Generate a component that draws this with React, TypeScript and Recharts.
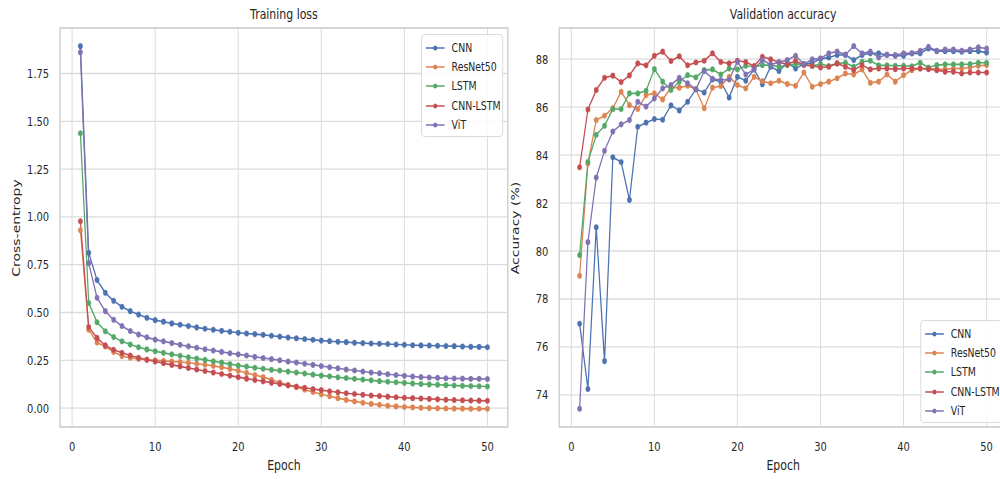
import React from 'react';
import { LineChart, Line, XAxis, YAxis, CartesianGrid, ReferenceArea } from 'recharts';

const FONT = '"DejaVu Sans", "Noto Sans", sans-serif';
const INK = '#262626';
// the source figure is squeezed horizontally, so draw wide and scale down
const SQUEEZE = 0.78;

const epochs = [
  1, 2, 3, 4, 5, 6, 7, 8, 9, 10, 11, 12, 13, 14, 15, 16, 17, 18, 19, 20, 21, 22, 23, 24, 25,
  26, 27, 28, 29, 30, 31, 32, 33, 34, 35, 36, 37, 38, 39, 40, 41, 42, 43, 44, 45, 46, 47, 48, 49, 50,
];
const models = ['CNN', 'ResNet50', 'LSTM', 'CNN-LSTM', 'ViT'];
const colors = ['#4C72B0', '#DD8452', '#55A868', '#C44E52', '#8172B3'];

const lossCNN = [
  1.893, 0.812, 0.670, 0.603, 0.561, 0.530, 0.507, 0.489, 0.472, 0.460, 0.452, 0.443, 0.436, 0.429, 0.422,
  0.415, 0.410, 0.404, 0.399, 0.394, 0.390, 0.387, 0.383, 0.378, 0.374, 0.369, 0.365, 0.361, 0.357, 0.353,
  0.350, 0.347, 0.345, 0.342, 0.340, 0.338, 0.336, 0.335, 0.333, 0.331, 0.329, 0.328, 0.327, 0.326, 0.325,
  0.324, 0.322, 0.321, 0.320, 0.318,
];
const lossResNet = [
  0.930, 0.410, 0.343, 0.322, 0.293, 0.272, 0.263, 0.257, 0.253, 0.250, 0.247, 0.244, 0.241, 0.237, 0.232,
  0.227, 0.221, 0.214, 0.205, 0.195, 0.184, 0.173, 0.162, 0.148, 0.134, 0.121, 0.109, 0.096, 0.084, 0.072,
  0.062, 0.052, 0.043, 0.035, 0.028, 0.022, 0.017, 0.012, 0.009, 0.006, 0.004, 0.002, 0.000, -0.001, -0.002,
  -0.003, -0.003, -0.004, -0.004, -0.004,
];
const lossLSTM = [
  1.437, 0.550, 0.449, 0.402, 0.372, 0.349, 0.333, 0.318, 0.307, 0.297, 0.289, 0.281, 0.274, 0.266, 0.259,
  0.252, 0.245, 0.238, 0.230, 0.223, 0.217, 0.211, 0.206, 0.200, 0.196, 0.191, 0.186, 0.181, 0.175, 0.170,
  0.166, 0.161, 0.157, 0.153, 0.149, 0.145, 0.141, 0.138, 0.135, 0.132, 0.129, 0.126, 0.124, 0.122, 0.120,
  0.118, 0.116, 0.115, 0.114, 0.113,
];
const lossCnnLstm = [
  0.977, 0.424, 0.367, 0.328, 0.305, 0.289, 0.275, 0.263, 0.253, 0.244, 0.235, 0.226, 0.218, 0.210, 0.202,
  0.194, 0.186, 0.178, 0.170, 0.162, 0.154, 0.147, 0.140, 0.133, 0.126, 0.119, 0.113, 0.106, 0.100, 0.094,
  0.088, 0.083, 0.078, 0.074, 0.070, 0.066, 0.063, 0.060, 0.057, 0.054, 0.052, 0.050, 0.048, 0.046, 0.044,
  0.042, 0.041, 0.040, 0.039, 0.038,
];
const lossViT = [
  1.861, 0.758, 0.577, 0.507, 0.462, 0.429, 0.403, 0.385, 0.370, 0.358, 0.349, 0.340, 0.331, 0.323, 0.316,
  0.308, 0.301, 0.294, 0.287, 0.281, 0.275, 0.268, 0.262, 0.256, 0.250, 0.244, 0.238, 0.232, 0.226, 0.220,
  0.214, 0.208, 0.202, 0.197, 0.191, 0.186, 0.182, 0.177, 0.173, 0.169, 0.165, 0.162, 0.160, 0.158, 0.156,
  0.155, 0.154, 0.153, 0.153, 0.152,
];

const accCNN = [
  76.97, 74.25, 80.99, 75.41, 83.91, 83.71, 82.13, 85.18, 85.35, 85.50, 85.47, 86.07, 85.86, 86.22, 86.74,
  86.61, 87.15, 87.06, 86.40, 87.26, 87.10, 87.57, 86.95, 87.68, 87.50, 87.85, 87.61, 87.79, 87.85, 88.00,
  88.07, 88.17, 88.17, 87.96, 88.17, 88.24, 88.24, 88.17, 88.14, 88.14, 88.24, 88.24, 88.44, 88.33, 88.33,
  88.33, 88.31, 88.33, 88.33, 88.27,
];
const accResNet = [
  78.97, 83.65, 85.46, 85.64, 85.95, 86.64, 86.08, 85.92, 86.50, 86.57, 86.32, 86.81, 86.81, 86.89, 86.74,
  85.95, 86.81, 86.88, 87.26, 86.92, 86.78, 87.26, 87.08, 86.99, 87.10, 86.96, 86.89, 87.44, 86.85, 86.96,
  87.06, 87.20, 87.40, 87.36, 87.57, 87.01, 87.06, 87.36, 87.06, 87.33, 87.54, 87.61, 87.61, 87.57, 87.57,
  87.61, 87.61, 87.65, 87.72, 87.75,
];
const accLSTM = [
  79.83, 83.71, 84.84, 85.22, 85.92, 85.92, 86.57, 86.57, 86.68, 87.58, 87.06, 86.71, 87.06, 87.33, 87.24,
  87.54, 87.57, 87.36, 87.61, 87.57, 87.72, 87.68, 87.75, 87.75, 87.68, 87.75, 87.79, 87.79, 87.71, 87.79,
  87.71, 87.82, 87.85, 87.68, 87.89, 87.93, 87.74, 87.74, 87.72, 87.72, 87.70, 87.85, 87.65, 87.75, 87.78,
  87.78, 87.78, 87.79, 87.85, 87.85,
];
const accCnnLstm = [
  83.49, 85.90, 86.71, 87.22, 87.31, 87.04, 87.32, 87.82, 87.74, 88.14, 88.31, 87.92, 88.12, 87.74, 87.86,
  87.93, 88.24, 87.88, 87.82, 87.93, 87.88, 87.71, 88.10, 87.99, 87.87, 87.78, 87.93, 87.75, 87.72, 87.65,
  87.68, 87.82, 87.68, 87.54, 87.75, 87.57, 87.61, 87.61, 87.58, 87.61, 87.61, 87.61, 87.58, 87.54, 87.47,
  87.47, 87.40, 87.44, 87.44, 87.44,
];
const accViT = [
  73.42, 80.37, 83.06, 84.18, 84.98, 85.28, 85.46, 86.22, 86.02, 86.36, 86.78, 86.92, 87.22, 86.99, 86.74,
  87.50, 87.18, 87.13, 87.15, 87.89, 87.36, 87.57, 87.96, 87.77, 87.87, 87.96, 88.14, 87.79, 87.99, 88.03,
  88.24, 88.31, 88.19, 88.54, 88.24, 88.31, 88.07, 88.19, 88.17, 88.24, 88.24, 88.35, 88.51, 88.35, 88.40,
  88.40, 88.35, 88.40, 88.49, 88.44,
];

const epochTicks = [0, 10, 20, 30, 40, 50];
const lossTicks = [0, 0.25, 0.5, 0.75, 1.0, 1.25, 1.5, 1.75];
const accTicks = [74, 76, 78, 80, 82, 84, 86, 88];

// matplotlib-style 5% margins around the data
function padded(values: number[]): [number, number] {
  const lo = Math.min(...values);
  const hi = Math.max(...values);
  const pad = (hi - lo) * 0.05;
  return [lo - pad, hi + pad];
}

function buildRows(series: number[][]) {
  return epochs.map((epoch, i) => {
    const row: Record<string, number> = { epoch };
    models.forEach((m, j) => (row[m] = series[j][i]));
    return row;
  });
}

const Y_AXIS_W = 77;
const PLOT_W = 574;
const CHART_W = Y_AXIS_W + PLOT_W + 20;
const CHART_H = 479;
const PLOT_TOP = 28;
const X_AXIS_H = 52;

function LegendBox({ left, top }: { left: number; top: number }) {
  return (
    <div
      style={{
        position: 'absolute',
        left,
        top,
        width: 105,
        boxSizing: 'border-box',
        padding: '3px 0 2px',
        background: 'rgba(255,255,255,0.85)',
        border: '1px solid #d6d6d6',
        borderRadius: 4,
        fontFamily: FONT,
        fontSize: 12,
        color: INK,
      }}
    >
      {models.map((m, i) => (
        <div key={m} style={{ display: 'flex', alignItems: 'center', height: 19.3 }}>
          <svg width={38} height={10} style={{ flex: 'none' }}>
            <line x1={5} x2={29} y1={5} y2={5} stroke={colors[i]} strokeWidth={1.6} />
            <circle cx={17} cy={5} r={2.6} fill={colors[i]} />
          </svg>
          <span style={{ whiteSpace: 'nowrap' }}>{m}</span>
        </div>
      ))}
    </div>
  );
}

interface PanelProps {
  left: number;
  title: string;
  yLabel: string;
  series: number[][];
  yTicks: number[];
  yFormat: (v: number) => string;
  legendTop: number;
}

function Panel({ left, title, yLabel, series, yTicks, yFormat, legendTop }: PanelProps) {
  const rows = buildRows(series);
  const xDomain = padded(epochs);
  const yDomain = padded(series.flat());
  const plotLeft = left + Y_AXIS_W;

  return (
    <>
      <div style={{ position: 'absolute', left, top: 0 }}>
        <LineChart
          width={CHART_W}
          height={CHART_H}
          data={rows}
          margin={{ top: PLOT_TOP, right: 20, bottom: 0, left: 0 }}
        >
          <CartesianGrid stroke="#dcdcdc" strokeWidth={1.3} />
          <ReferenceArea
            x1={xDomain[0]}
            x2={xDomain[1]}
            y1={yDomain[0]}
            y2={yDomain[1]}
            fill="none"
            stroke="#d0d0d0"
            strokeWidth={1.6}
          />
          <XAxis
            dataKey="epoch"
            type="number"
            domain={xDomain}
            ticks={epochTicks}
            height={X_AXIS_H}
            axisLine={false}
            tickLine={false}
            tickSize={0}
            tickMargin={15}
            tick={{ fill: INK, fontSize: 12.7, fontFamily: FONT }}
          />
          <YAxis
            type="number"
            domain={yDomain}
            ticks={yTicks}
            width={Y_AXIS_W}
            tickFormatter={yFormat}
            axisLine={false}
            tickLine={false}
            tickSize={0}
            tickMargin={14}
            tick={{ fill: INK, fontSize: 12.7, fontFamily: FONT }}
          />
          {models.map((m, i) => (
            <Line
              key={m}
              dataKey={m}
              stroke={colors[i]}
              strokeWidth={1.6}
              dot={{ r: 2.8, fill: colors[i], stroke: colors[i], strokeWidth: 0.4 }}
              activeDot={false}
              isAnimationActive={false}
            />
          ))}
        </LineChart>
      </div>
      <div
        style={{
          position: 'absolute',
          left: plotLeft,
          top: 6,
          width: PLOT_W,
          textAlign: 'center',
          fontFamily: FONT,
          fontSize: 14,
          lineHeight: '16px',
          color: INK,
        }}
      >
        {title}
      </div>
      <div
        style={{
          position: 'absolute',
          left: plotLeft,
          top: 457,
          width: PLOT_W,
          textAlign: 'center',
          fontFamily: FONT,
          fontSize: 14,
          lineHeight: '16px',
          color: INK,
        }}
      >
        Epoch
      </div>
      <div
        style={{
          position: 'absolute',
          left: left + 20.5,
          top: PLOT_TOP + (CHART_H - X_AXIS_H - PLOT_TOP) / 2,
          transform: 'translate(-50%, -50%) rotate(-90deg)',
          whiteSpace: 'nowrap',
          fontFamily: FONT,
          fontSize: 14,
          lineHeight: '16px',
          color: INK,
        }}
      >
        {yLabel}
      </div>
      <LegendBox left={plotLeft + PLOT_W - 111} top={legendTop} />
    </>
  );
}

export default function App() {
  return (
    <div
      style={{
        position: 'absolute',
        left: 0,
        top: 0,
        width: 1000,
        height: 479,
        overflow: 'hidden',
        background: '#ffffff',
      }}
    >
      <div
        style={{
          position: 'relative',
          width: 1320,
          height: 479,
          transform: `scaleX(${SQUEEZE})`,
          transformOrigin: '0 0',
        }}
      >
        <Panel
          left={0}
          title="Training loss"
          yLabel="Cross-entropy"
          series={[lossCNN, lossResNet, lossLSTM, lossCnnLstm, lossViT]}
          yTicks={lossTicks}
          yFormat={(v) => v.toFixed(2)}
          legendTop={34}
        />
        <Panel
          left={640}
          title="Validation accuracy"
          yLabel="Accuracy (%)"
          series={[accCNN, accResNet, accLSTM, accCnnLstm, accViT]}
          yTicks={accTicks}
          yFormat={(v) => String(v)}
          legendTop={320}
        />
      </div>
    </div>
  );
}
